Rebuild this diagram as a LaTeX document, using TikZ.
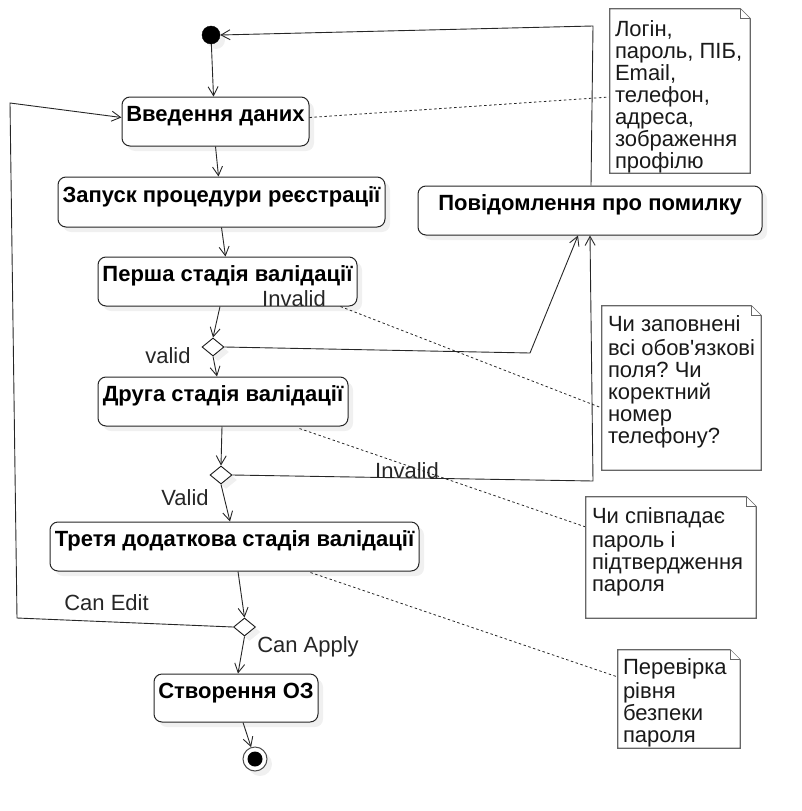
\documentclass[tikz,border=0pt]{standalone}
\usepackage{fontspec}
\setmainfont{Liberation Sans}[Ligatures=TeXOff]
\usetikzlibrary{arrows.meta,shapes.geometric,shadows,calc}
\newcommand{\fsz}{\fontsize{22}{22}\selectfont\frenchspacing}
\newcommand{\notefold}[1]{%
  \draw[notedraw] (#1.north west) -- ([xshift=-10pt]#1.north east) -- ([yshift=-10pt]#1.north east) -- (#1.south east) -- (#1.south west) -- cycle;
  \draw[notedraw] ([xshift=-10pt]#1.north east) -- ([xshift=-10pt,yshift=-10pt]#1.north east) -- ([yshift=-10pt]#1.north east);}
\begin{document}
\begin{tikzpicture}[x=1pt,y=-1pt,
  shad/.style={drop shadow={shadow xshift=5pt, shadow yshift=-5pt, fill=black!6, opacity=1}},
  act/.style={rectangle, rounded corners=8pt, draw=black!85, line width=1pt, fill=white,
    font=\fsz\bfseries, inner sep=0pt, text height=10pt, text depth=10pt, shad},
  dia/.style={diamond, draw=black!90, line width=0.9pt, fill=white, inner sep=0pt,
    minimum width=22pt, minimum height=18pt, shad},
  notebox/.style={rectangle, inner sep=0pt},
  notedraw/.style={draw=black!60, line width=1.2pt, fill=white},
  notetext/.style={inner sep=0pt, anchor=north west, align=left, font=\fsz, text=black!90},
  lbl/.style={inner sep=0pt, anchor=base, font=\fsz, text=black!85},
  arr/.style={draw=black!85, line width=0.9pt, -{Straight Barb[length=9pt,width=10pt]}},
  dot/.style={draw=black!85, line width=0.8pt, dash pattern=on 2.5pt off 2.5pt},
  line/.style={draw=black!85, line width=0.9pt}
]
\useasboundingbox (0,0) rectangle (802,811);

% notes (placeholders for shape and anchors)
\node[notebox, minimum width=140pt, minimum height=164pt] (note1) at (680,91) {};
\node[notebox, minimum width=159pt, minimum height=164pt] (note2) at (681.5,388) {};
\node[notebox, minimum width=170pt, minimum height=121pt] (note3) at (671,557.5) {};
\node[notebox, minimum width=122pt, minimum height=98pt] (note4) at (679,699) {};

% activities
\node[circle, fill=black, draw=black, minimum size=18pt, inner sep=0pt, shad] (start) at (211,35) {};
\node[act, minimum width=187pt, minimum height=49pt] (n1) at (215.5,121.5) {Введення даних};
\node[act, minimum width=327pt, minimum height=50pt] (n2) at (221.5,202) {Запуск процедури реєстрації};
\node[act, minimum width=259pt, minimum height=49pt] (n3) at (227.5,281.5) {Перша стадія валідації};
\node[dia] (d1) at (213,347) {};
\node[act, minimum width=250pt, minimum height=49pt] (n4) at (223,401.5) {Друга стадія валідації};
\node[dia] (d2) at (221,475) {};
\node[act, minimum width=369pt, minimum height=49pt] (n5) at (234.5,546.5) {Третя додаткова стадія валідації};
\node[dia] (d3) at (244.5,627) {};
\node[act, minimum width=164pt, minimum height=48pt] (n6) at (236,698) {Створення ОЗ};
\node[circle, draw=black!70, line width=1pt, fill=white, minimum size=24pt, inner sep=0pt, shad] (end) at (255,759) {};
\node[circle, fill=black, minimum size=15pt, inner sep=0pt] (endin) at (end.center) {};
\node[act, minimum width=344pt, minimum height=49pt] (err) at (590,210.5) {Повідомлення про помилку};

% coordinates for bends
\coordinate (c1) at (530,353);
\coordinate (c2) at (593,481);
\coordinate (c3) at (593,26);
\coordinate (c4) at (17,618);
\coordinate (c5) at (10,103);

% dotted links to notes
\draw[dot] ([yshift=4pt]n1.east) -- ([yshift=-6pt]note1.west);
\draw[dot] ([xshift=-17pt]n3.south east) -- ([yshift=-20pt]note2.west);
\draw[dot] ([xshift=-49pt,yshift=-2pt]n4.south east) -- ([yshift=30.5pt]note3.west);
\draw[dot] ([xshift=-109pt,yshift=-1pt]n5.south east) -- ([yshift=22pt]note4.west);

% flow
\draw[arr] (start) -- ([xshift=-2pt]n1.north);
\draw[arr] (n1.south) -- ([xshift=-3pt]n2.north);
\draw[arr] (n2.south) -- ([xshift=-2pt]n3.north);
\draw[arr] ([xshift=-7.5pt]n3.south) -- (d1.north);
\draw[arr] (d1.south) -- ([xshift=-6pt]n4.north);
\draw[arr] ([xshift=-1pt]n4.south) -- (d2.north);
\draw[arr] (d2.south) -- ([xshift=-4.5pt]n5.north);
\draw[arr] ([xshift=3.5pt]n5.south) -- (d3.north);
\draw[arr] (d3.south) -- ([xshift=2pt]n6.north);
\draw[arr] ([xshift=7pt]n6.south) -- (end);

% loops
\draw[arr] (d1.east) -- (c1) -- ([xshift=-12pt]err.south);
\draw[arr] (d2.east) -- (c2) -- (err.south);
\draw[arr] ([xshift=1pt]err.north) -- (c3) -- (start.east);
\draw[arr] (d3.west) -- (c4) -- (c5) -- ([yshift=4pt]n1.west);

% notes drawn
\notefold{note1}
\notefold{note2}
\notefold{note3}
\notefold{note4}
\node[notetext] (t1) at ($(note1.north west)+(5,12)$) {\strut Логін,\\пароль, ПІБ,\\Email,\\телефон,\\адреса,\\зображення\\профілю};
\node[notetext] (t2) at ($(note2.north west)+(6,10)$) {\strut Чи заповнені\\всі обов'язкові\\поля? Чи\\коректний\\номер\\телефону?};
\node[notetext] (t3) at ($(note3.north west)+(6,11)$) {\strut Чи співпадає\\пароль і\\підтвердження\\пароля};
\node[notetext] (t4) at ($(note4.north west)+(5,9)$) {\strut Перевірка\\рівня\\безпеки\\пароля};

% guard labels
\node[lbl] (l1) at (294,306) {Invalid};
\node[lbl] (l2) at (168,363) {valid};
\node[lbl] (l3) at (407,478) {Invalid};
\node[lbl] (l4) at (185,505) {Valid};
\node[lbl] (l5) at (106.5,610) {Can Edit};
\node[lbl] (l6) at (308,652) {Can Apply};
\end{tikzpicture}
\end{document}
